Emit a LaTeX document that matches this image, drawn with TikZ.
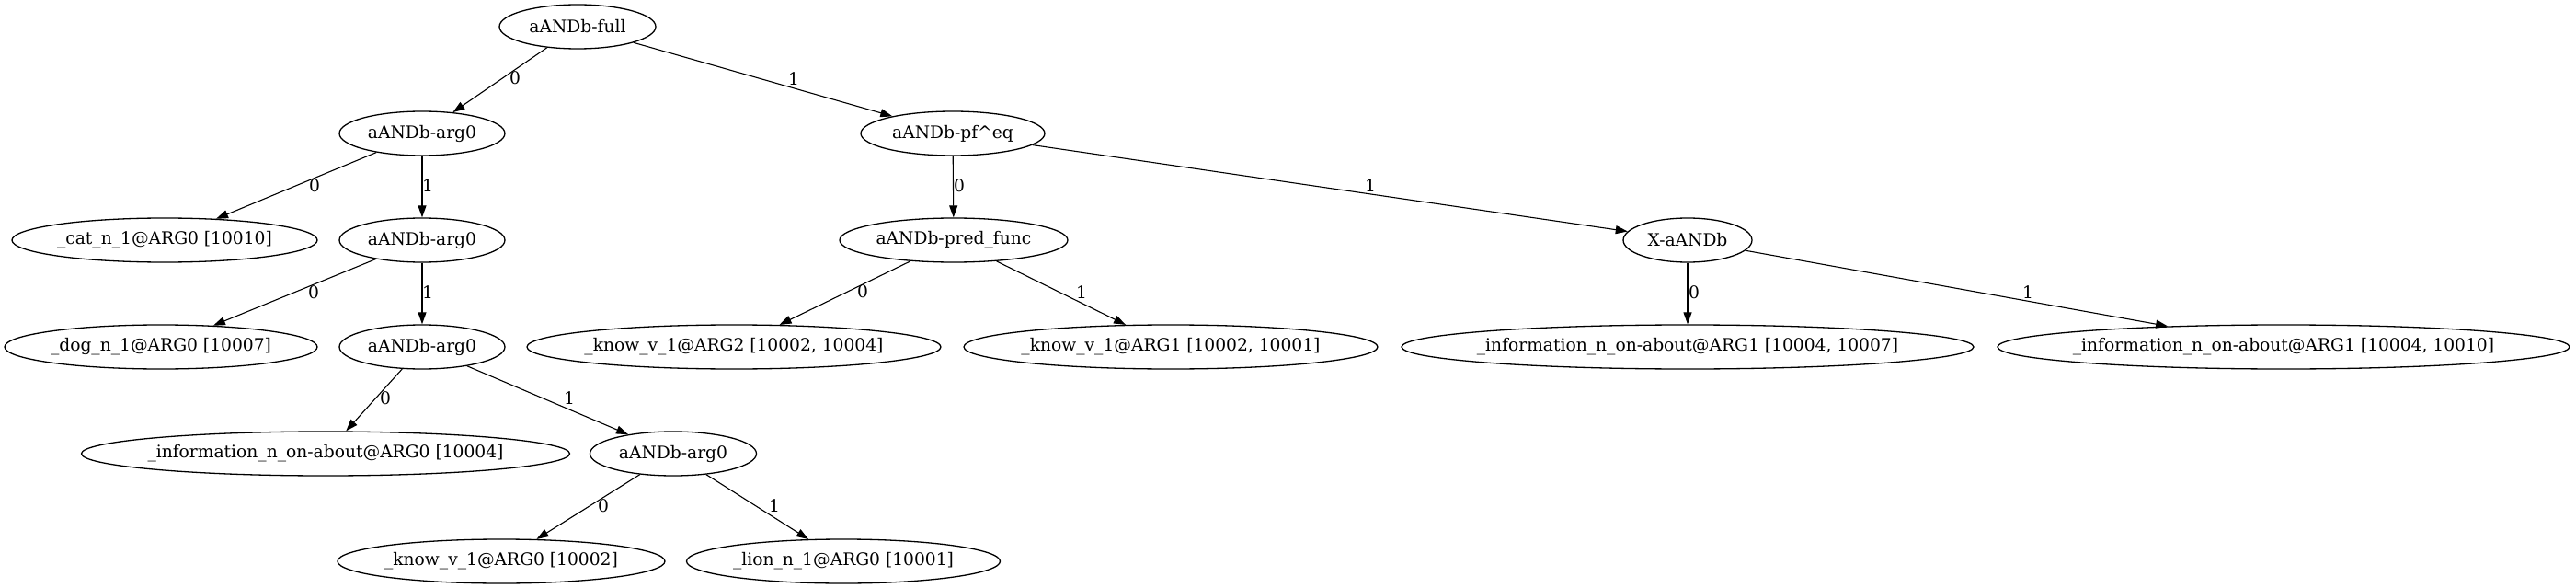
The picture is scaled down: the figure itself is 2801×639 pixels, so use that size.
\documentclass[tikz,border=0pt]{standalone}
\usepackage{fontspec}
\setmainfont{DejaVu Serif}
\usetikzlibrary{shapes.geometric,arrows.meta}
\newcommand\ntext[1]{\makebox[0pt][c]{#1}}
\begin{document}
\begin{tikzpicture}[x=1pt,y=-1pt,
  nd/.style={draw, ellipse, line width=1.3pt, inner sep=0pt, minimum height=48pt, font=\fontsize{18.67}{22}\selectfont},
  edge/.style={draw, line width=1.1pt, -{Triangle[length=13pt,width=9pt]}},
  lbl/.style={font=\fontsize{18.67}{22}\selectfont, inner sep=0pt}]
\useasboundingbox (0,0) rectangle (2801,639);
% nodes
\node[nd, minimum width=170pt] (full) at (628,29) {\ntext{aANDb-full}};
\node[nd, minimum width=180pt] (a0) at (459,145) {\ntext{aANDb-arg0}};
\node[nd, minimum width=200pt] (pf) at (1036,145) {\ntext{aANDb-pf\textasciicircum eq}};
\node[nd, minimum width=332pt] (cat) at (179,261) {\ntext{\_cat\_n\_1@ARG0 [10010]}};
\node[nd, minimum width=180pt] (a1) at (459,261) {\ntext{aANDb-arg0}};
\node[nd, minimum width=248pt] (pred) at (1037,261) {\ntext{aANDb-pred\_func}};
\node[nd, minimum width=140pt] (X) at (1835,261) {\ntext{X-aANDb}};
\node[nd, minimum width=340pt] (dog) at (175,377) {\ntext{\_dog\_n\_1@ARG0 [10007]}};
\node[nd, minimum width=180pt] (a2) at (459,377) {\ntext{aANDb-arg0}};
\node[nd, minimum width=450pt] (kA2) at (798,377) {\ntext{\_know\_v\_1@ARG2 [10002, 10004]}};
\node[nd, minimum width=450pt] (kA1) at (1273,377) {\ntext{\_know\_v\_1@ARG1 [10002, 10001]}};
\node[nd, minimum width=622pt] (i7) at (1835,377) {\ntext{\_information\_n\_on-about@ARG1 [10004, 10007]}};
\node[nd, minimum width=622pt] (i10) at (2483,377) {\ntext{\_information\_n\_on-about@ARG1 [10004, 10010]}};
\node[nd, minimum width=531pt] (i0) at (354,493) {\ntext{\_information\_n\_on-about@ARG0 [10004]}};
\node[nd, minimum width=181pt] (a3) at (732,493) {\ntext{aANDb-arg0}};
\node[nd, minimum width=356pt] (k0) at (545,610) {\ntext{\_know\_v\_1@ARG0 [10002]}};
\node[nd, minimum width=341pt] (lion) at (917,610) {\ntext{\_lion\_n\_1@ARG0 [10001]}};
% edges
\draw[edge] (full) -- (a0) node[lbl] (l1) at (560,85) {0};
\draw[edge] (full) -- (pf) node[lbl] (l2) at (863,86) {1};
\draw[edge] (a0) -- (cat) node[lbl] (l3) at (342,202) {0};
\draw[edge] (a0) -- (a1) node[lbl] (l4) at (465,202) {1};
\draw[edge] (a1) -- (dog) node[lbl] (l5) at (341,318) {0};
\draw[edge] (a1) -- (a2) node[lbl] (l6) at (465,318) {1};
\draw[edge] (a2) -- (i0) node[lbl] (l7) at (419,433) {0};
\draw[edge] (a2) -- (a3) node[lbl] (l8) at (619,433) {1};
\draw[edge] (a3) -- (k0) node[lbl] (l9) at (656,550) {0};
\draw[edge] (a3) -- (lion) node[lbl] (l10) at (842,550) {1};
\draw[edge] (pf) -- (pred) node[lbl] (l11) at (1043,202) {0};
\draw[edge] (pf) -- (X) node[lbl] (l12) at (1490,202) {1};
\draw[edge] (pred) -- (kA2) node[lbl] (l13) at (938,317) {0};
\draw[edge] (pred) -- (kA1) node[lbl] (l14) at (1176,318) {1};
\draw[edge] (X) -- (i7) node[lbl] (l15) at (1842,318) {0};
\draw[edge] (X) -- (i10) node[lbl] (l16) at (2205,318) {1};
\end{tikzpicture}
\end{document}
